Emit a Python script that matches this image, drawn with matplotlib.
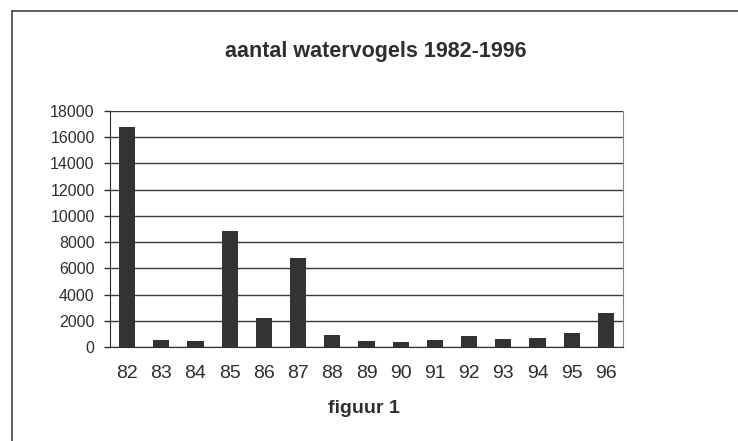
import matplotlib
matplotlib.use('Agg')
import matplotlib.pyplot as plt
from matplotlib.lines import Line2D
import numpy as np

plt.rcParams['font.family'] = ['Liberation Sans', 'DejaVu Sans']

jaren = ['82', '83', '84', '85', '86', '87', '88', '89', '90', '91', '92', '93', '94', '95', '96']
aantal = [16800, 570, 460, 8850, 2250, 6800, 900, 460, 360, 570, 850, 640, 720, 1080, 2570]
y_ticks = [0, 2000, 4000, 6000, 8000, 10000, 12000, 14000, 16000, 18000]

ink = '#2e2e2e'
W, H = 738, 441
fig = plt.figure(figsize=(W / 100, H / 100), dpi=100)
ax = fig.add_axes([110 / W, (H - 347) / H, (623 - 110) / W, (347 - 111) / H])

x = np.arange(len(jaren))
ax.bar(x, aantal, width=0.47, color='#333333', zorder=3)
ax.set_xlim(-0.5, len(jaren) - 0.5)
ax.set_ylim(0, 18000)
ax.set_yticks(y_ticks)
ax.set_yticklabels([str(v) for v in y_ticks])
ax.set_xticks(x)
ax.set_xticklabels(jaren)
ax.yaxis.grid(True, color='#3a3a3a', lw=1.0, zorder=1)
ax.tick_params(axis='y', length=4, width=1, color=ink, labelsize=11.5, labelcolor=ink, pad=7)
ax.tick_params(axis='x', length=0, labelsize=14, labelcolor=ink, pad=13)
ax.spines['top'].set_visible(False)
ax.spines['left'].set_color(ink)
ax.spines['bottom'].set_color(ink)
ax.spines['right'].set_color('#888888')
ax.spines['right'].set_linestyle((0, (2, 1)))

fig.text(376 / W, 1 - 57 / H, 'aantal watervogels 1982-1996', ha='center', va='baseline',
         fontsize=15.5, fontweight='bold', color=ink)
fig.text(364 / W, 1 - 413 / H, 'figuur 1', ha='center', va='baseline',
         fontsize=14, fontweight='bold', color=ink)

# kader rond de figuur (alleen boven en links zichtbaar)
fig.add_artist(Line2D([12 / W, 1.01], [1 - 11 / H, 1 - 11 / H], transform=fig.transFigure, color='#444444', lw=1.2))
fig.add_artist(Line2D([12 / W, 12 / W], [-0.01, 1 - 11 / H], transform=fig.transFigure, color='#444444', lw=1.2))

fig.savefig('out.png', dpi=100)
